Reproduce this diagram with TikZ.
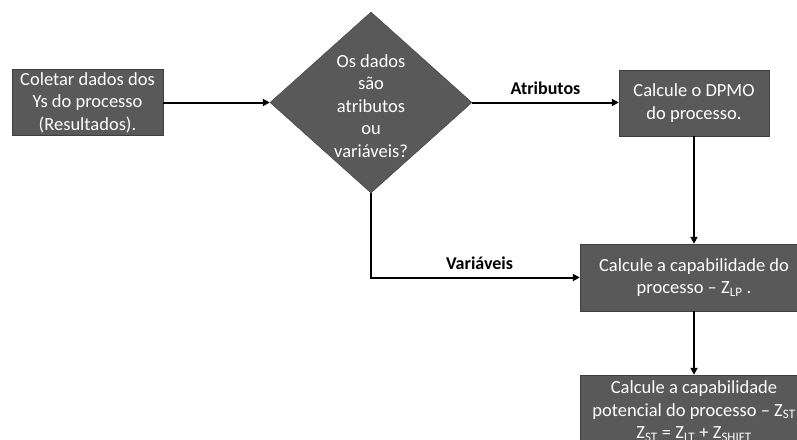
\documentclass[tikz,border=0pt]{standalone}
\usepackage{fontspec}
\setmainfont{Carlito}
\usepackage{xcolor}
\usetikzlibrary{arrows.meta,positioning,calc,shapes.geometric}
\definecolor{boxgray}{HTML}{595959}
\definecolor{edgegray}{HTML}{3F3F3F}

\begin{document}
\begin{tikzpicture}[x=1pt,y=-1pt,
  block/.style={rectangle,draw=edgegray,fill=boxgray,text=white,align=center,
                minimum height=66pt,inner sep=0pt,font=\fontsize{18.5}{22.5}\selectfont},
  decision/.style={diamond,draw=edgegray,fill=boxgray,text=white,align=center,
                   aspect=1.1,inner sep=0pt,minimum width=202pt,minimum height=181pt,
                   font=\fontsize{18.5}{22.5}\selectfont},
  link/.style={-{Triangle[length=7pt,width=7pt]},line width=2pt},
  tag/.style={font=\fontsize{18}{20}\selectfont\bfseries,text=black}]
\useasboundingbox (0,0) rectangle (797,439);
\clip (0,0) rectangle (797,439);
\fill[white] (0,0) rectangle (797,439);
\node[block,minimum width=151pt] (coletar) at (87.5,102.5) {Coletar dados dos\\Ys do processo\\(Resultados).};
\node[decision] (tipo) at (371,102.5) {};
\node[text=white,align=center,font=\fontsize{18.5}{22.5}\selectfont] (tipotxt) at (371,106)
  {Os dados\\são\\atributos\\ou\\variáveis?};
\node[block,minimum width=150pt] (dpmo) at (694,103) {Calcule o DPMO\\do processo.};
\node[block,minimum width=228pt,minimum height=67pt] (zlp) at (694,277.5)
  {Calcule a capabilidade do\\processo -- Z\textsubscript{LP} .};
\node[block,minimum width=228pt,minimum height=72pt] (zst) at (694,411)
  {Calcule a capabilidade\\potencial do processo -- Z\textsubscript{ST}\\Z\textsubscript{ST} = Z\textsubscript{LT} + Z\textsubscript{SHIFT}};
\draw[link] (coletar.east) -- (tipo.west);
\draw[link] (tipo.east) -- (tipo.east -| dpmo.west)
  node[midway,above=4pt,tag]{Atributos};
\draw[link] (tipo.south) |- (zlp.west)
  node[pos=0.76,above=4pt,tag]{Variáveis};
\draw[link] (dpmo.south) -- (zlp.north);
\draw[link] (zlp.south) -- (zst.north);
\end{tikzpicture}
\end{document}
